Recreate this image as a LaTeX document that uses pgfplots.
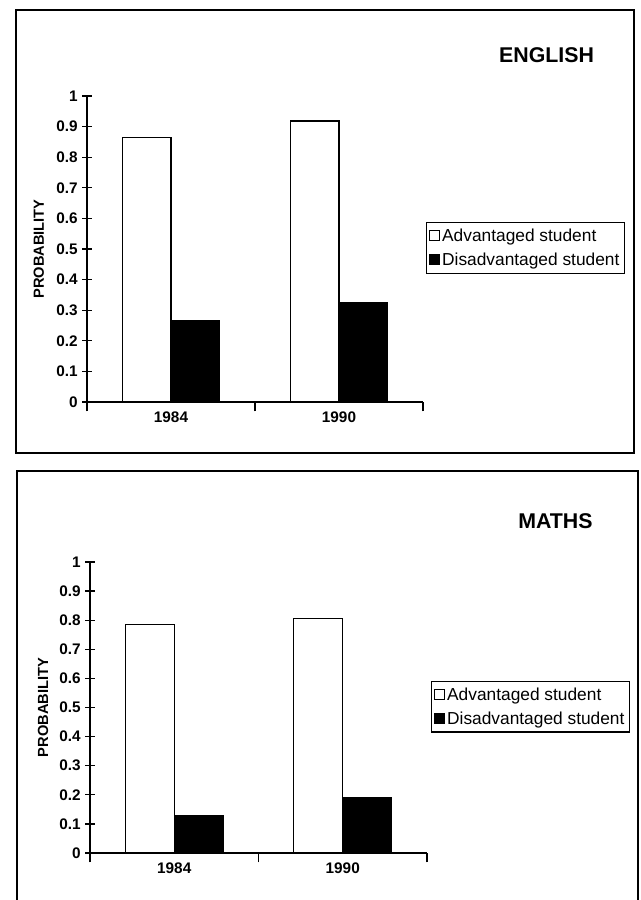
\documentclass[border=0pt]{standalone}
\usepackage{fontspec}
\setmainfont{Liberation Sans}
\usepackage{pgfplots}
\pgfplotsset{compat=1.18}
\pgfplotsset{
  probstyle/.style={
    scale only axis,
    anchor=south west,
    xmin=-0.5, xmax=1.5, ymin=0, ymax=1,
    axis x line=bottom, axis y line=left,
    axis line style={-, line width=1.1pt},
    ytick={0,0.1,...,1},
    yticklabels={0,0.1,0.2,0.3,0.4,0.5,0.6,0.7,0.8,0.9,1},
    xtick={-0.5,0.5,1.5},
    xticklabels={},
    extra x ticks={0,1},
    extra x tick labels={1984,1990},
    extra x tick style={major tick length=0pt, xticklabel style={yshift=-4pt}},
    tick align=center,
    major tick length=7pt,
    tick style={line width=0.9pt, black},
    ticklabel style={font=\fontsize{11.5}{13}\selectfont\bfseries},
    /pgf/number format/assume math mode=true,
    ylabel={PROBABILITY},
    ylabel style={font=\fontsize{11}{13}\selectfont\bfseries, anchor=center},
    ybar,
    bar width=0.29,
    legend cell align=left,
    legend style={anchor=north west, draw=black, line width=0.8pt,
      font=\fontsize{13}{15}\selectfont, inner xsep=1.5pt, inner ysep=2.5pt,
      row sep=3pt,
      /tikz/every even column/.append style={column sep=0pt}},
    legend image code/.code={\draw[#1, line width=0.7pt] (0pt,-3.8pt) rectangle (7.5pt,3.8pt);},
  }
}
\begin{document}
\begin{tikzpicture}
\useasboundingbox (0,0) rectangle (480pt,675pt);
% panel borders
\draw[line width=0.8pt] (12pt,335.25pt) rectangle (475.5pt,667.5pt);
\draw[line width=0.8pt] (12.75pt,-2pt) -- (12.75pt,321.75pt) -- (478.5pt,321.75pt) -- (478.5pt,-2pt);
% titles
\node[anchor=east, font=\fontsize{16}{19}\selectfont\bfseries] at (449pt,633.75pt) {ENGLISH};
\node[anchor=east, font=\fontsize{16}{19}\selectfont\bfseries] at (448pt,284.25pt) {MATHS};

\begin{axis}[probstyle,
  at={(65.25pt,373.5pt)}, width=252pt, height=229.5pt,
  ylabel style={at={(axis description cs:-0.143,0.5)}},
  legend style={at={(axis description cs:1.009,0.588)}},
]
\addplot[draw=black, fill=white, line width=0.9pt, bar shift=-0.145] coordinates {(0,0.865) (1,0.918)};
\addplot[draw=black, fill=black, line width=0.9pt, bar shift=0.145] coordinates {(0,0.266) (1,0.326)};
\legend{Advantaged student, Disadvantaged student}
\end{axis}

\begin{axis}[probstyle,
  at={(67.5pt,35.25pt)}, width=252.75pt, height=218.25pt,
  ylabel style={at={(axis description cs:-0.139,0.5)}},
  legend style={at={(axis description cs:1.012,0.591)}},
]
\addplot[draw=black, fill=white, line width=0.9pt, bar shift=-0.145] coordinates {(0,0.786) (1,0.805)};
\addplot[draw=black, fill=black, line width=0.9pt, bar shift=0.145] coordinates {(0,0.130) (1,0.189)};
\legend{Advantaged student, Disadvantaged student}
\end{axis}
\end{tikzpicture}
\end{document}
